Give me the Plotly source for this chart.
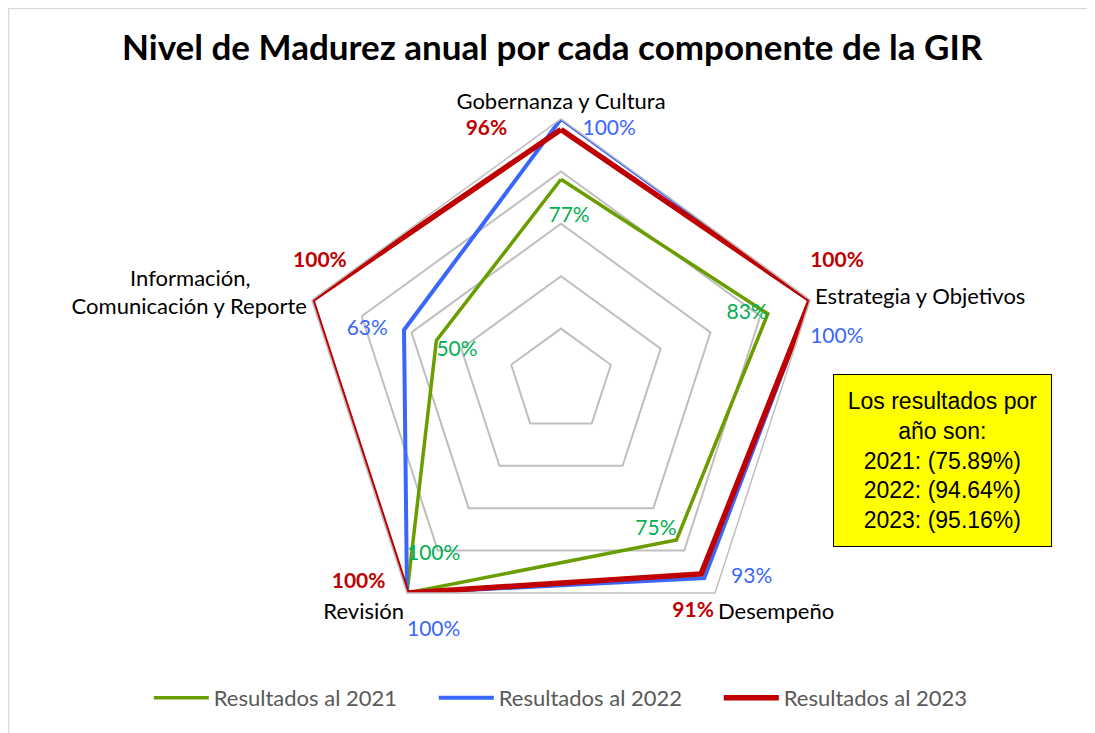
import plotly.graph_objects as go

# componentes de la GIR (orden horario desde arriba)
componentes = ['Gobernanza y Cultura', 'Estrategia y Objetivos', 'Desempeño',
               'Revisión', 'Información, Comunicación y Reporte']
etiquetas = ['Gobernanza y Cultura', 'Estrategia y Objetivos', 'Desempeño',
             'Revisión', 'Información,' + '\u00a0' * 10 + '<br>Comunicación y Reporte']

res_2021 = [77, 83, 75, 100, 50]
res_2022 = [100, 100, 93, 100, 63]
res_2023 = [96, 100, 91, 100, 100]

promedios = {'2021': '75.89%', '2022': '94.64%', '2023': '95.16%'}

sp = '\u00a0'

# textos de cada punto (con algo de relleno para separarlos de la línea)
txt_2021 = ['<br>' + sp * 3 + '77%', '83%', '75%', '100%<br>', '50%']
pos_2021 = ['bottom center', 'middle left', 'top left', 'top right', 'bottom right']
txt_2022 = [sp * 4 + '100%', '<br>100%', sp * 5 + '93%', '<br>100%', '63%' + sp * 3]
pos_2022 = ['bottom right', 'bottom right', 'middle right', 'bottom right', 'middle left']
txt_2023 = ['<b>96%</b>' + sp * 10, '<b>100%</b><br>', '<br><b>91%</b>' + sp * 3,
            '<b>100%</b>' + sp * 4, sp * 3 + '<b>100%</b><br>']
pos_2023 = ['middle left', 'top right', 'bottom center', 'top left', 'top center']

series = [
    ('Resultados al 2021', res_2021, '#6a9e00', 3.5, '#00b050', txt_2021, pos_2021),
    ('Resultados al 2022', res_2022, '#3a67fa', 4, '#3a67fa', txt_2022, pos_2022),
    ('Resultados al 2023', res_2023, '#c00000', 5.5, '#c00000', txt_2023, pos_2023),
]

fig = go.Figure()
for nombre, vals, color, ancho, color_txt, textos, posiciones in series:
    fig.add_trace(go.Scatterpolar(
        r=vals + vals[:1],
        theta=componentes + componentes[:1],
        name=nombre,
        mode='lines+text',
        line=dict(color=color, width=ancho),
        text=textos + [''],
        textposition=posiciones + ['middle center'],
        textfont=dict(color=color_txt, size=21, family='Lato'),
        cliponaxis=False,
    ))

fig.update_layout(
    width=1095, height=733,
    paper_bgcolor='white',
    margin=dict(l=0, r=0, t=0, b=0),
    font=dict(family='Lato', size=22, color='black'),
    title=dict(text='<b>Nivel de Madurez anual por cada componente de la GIR</b>',
               x=0.497, xanchor='center', y=1 - 40 / 733, yanchor='middle',
               font=dict(size=35, color='black', family='Lato')),
    polar=dict(
        domain=dict(x=[291 / 1095, 815 / 1095], y=[98 / 733, 622 / 733]),
        gridshape='linear',
        bgcolor='white',
        radialaxis=dict(range=[0, 100], dtick=20, showticklabels=False,
                        showline=False, ticks='', gridcolor='#bfbfbf', gridwidth=1.5),
        angularaxis=dict(direction='clockwise', rotation=90, showgrid=False,
                         ticks='', showline=True, linecolor='#bfbfbf', linewidth=1.5,
                         tickvals=componentes, ticktext=etiquetas,
                         tickfont=dict(size=22, color='black', family='Lato')),
    ),
    legend=dict(orientation='h', x=0.519, xanchor='center', y=1 - 690 / 733,
                yanchor='middle',
                font=dict(size=22, color='#595959', family='Lato'),
                itemwidth=55, entrywidth=215, entrywidthmode='pixels'),
    showlegend=True,
)

texto_caja = ('Los resultados por<br>año son:<br>' +
              '<br>'.join(f'{a}: ({p})' for a, p in promedios.items()))
fig.add_annotation(
    x=934.5 / 1095, y=1 - 452.5 / 733, xref='paper', yref='paper',
    xanchor='center', yanchor='middle', showarrow=False,
    text=texto_caja, align='center', valign='middle',
    font=dict(family='Liberation Sans', size=23, color='black'),
    bgcolor='#ffff00', bordercolor='black', borderwidth=1, borderpad=0,
    width=217, height=171,
)

# marco del área del gráfico
fig.add_shape(type='rect', xref='paper', yref='paper',
              x0=0.5 / 1095, y0=-0.05, x1=1.05, y1=1 - 0.5 / 733,
              line=dict(color='#d9d9d9', width=1.5))

fig.write_html('out.html')
